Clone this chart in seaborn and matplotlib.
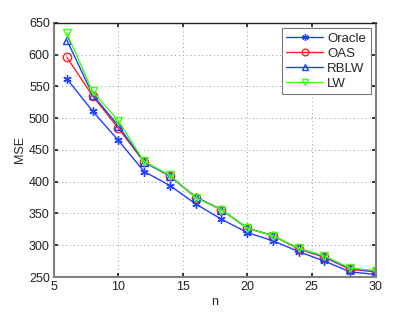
import matplotlib
matplotlib.use("Agg")
import matplotlib.pyplot as plt
import seaborn as sns
import pandas as pd

n = [6, 8, 10, 12, 14, 16, 18, 20, 22, 24, 26, 28, 30]
oracle = [562, 511, 465, 416, 394, 365, 341, 320, 307, 290, 275, 258, 254]
oas = [596, 535, 484, 431, 409, 375, 356, 327, 315, 294, 281, 262, 258]
rblw = [623, 537, 488, 431, 409, 376, 356, 327, 315, 295, 282, 263, 259]
lw = [634, 542, 496, 432, 410, 375, 356, 327, 315, 295, 283, 264, 260]

series = ["Oracle", "OAS", "RBLW", "LW"]
values = [oracle, oas, rblw, lw]

rows = []
for name, vals in zip(series, values):
    for x, y in zip(n, vals):
        rows.append({"n": x, "MSE": y, "method": name})
df = pd.DataFrame(rows)

sns.set_theme(style="white")
plt.rcParams['font.family'] = ['Liberation Sans', 'DejaVu Sans']

colors = {"Oracle": "#2040ff", "OAS": "#ff2020", "RBLW": "#2040ff", "LW": "#40ff10"}
markers = {"Oracle": (6, 2, 0), "OAS": "o", "RBLW": "^", "LW": "v"}

fig = plt.figure(figsize=(4.15, 3.13), dpi=100)
ax = fig.add_axes([0.130, 0.115, 0.776, 0.812])

for name in series:
    sub = df[df["method"] == name]
    sns.lineplot(data=sub, x="n", y="MSE", ax=ax, color=colors[name], label=name,
                 marker=markers[name], markersize=6,
                 markerfacecolor="none" if name != "Oracle" else colors[name],
                 markeredgecolor=colors[name], markeredgewidth=1.0, linewidth=1.0,
                 errorbar=None)

ax.set_xlim(5, 30)
ax.set_ylim(250, 650)
ax.set_xticks([5, 10, 15, 20, 25, 30])
ax.set_yticks(range(250, 651, 50))
ax.grid(True, linestyle=(0, (1, 3)), color="#999999", linewidth=0.7)
ax.tick_params(direction="in", length=3, labelsize=9, top=True, right=True,
               bottom=True, left=True, colors="#222222", pad=3)
for side in ["left", "right", "bottom"]:
    ax.spines[side].set_color("#808080")
    ax.spines[side].set_linewidth(1.5)
ax.spines["top"].set_color("#222222")
ax.spines["top"].set_linewidth(1.0)
ax.set_xlabel("n", fontsize=9, labelpad=2)
ax.set_ylabel("MSE", fontsize=9, labelpad=2)

leg = ax.legend(loc="upper right", fontsize=9.5, frameon=True, fancybox=False,
                edgecolor="#555555", borderpad=0.35, labelspacing=0.2,
                handlelength=2.8, handletextpad=0.3, borderaxespad=0.4,
                markerscale=0.8)
leg.get_frame().set_linewidth(0.8)

fig.savefig("out.png", dpi=100)
